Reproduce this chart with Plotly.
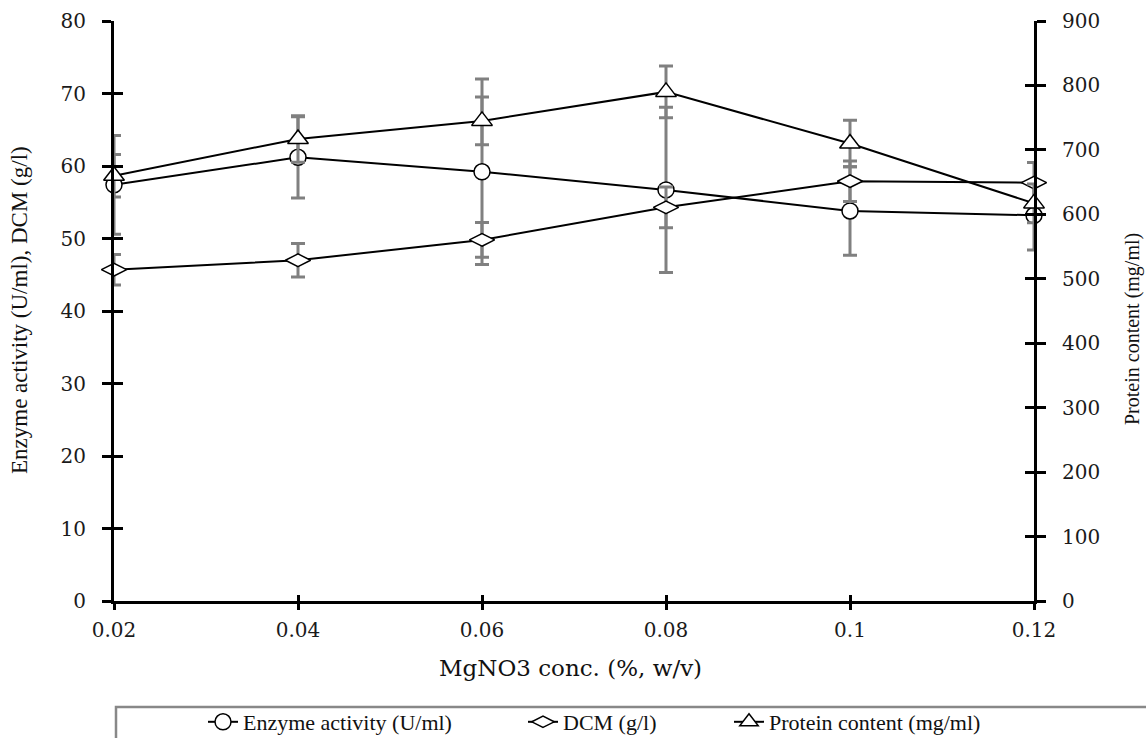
import plotly.graph_objects as go

# ---- data ----
conc = [0.02, 0.04, 0.06, 0.08, 0.10, 0.12]
conc_labels = ["0.02", "0.04", "0.06", "0.08", "0.1", "0.12"]
enzyme = [57.4, 61.2, 59.2, 56.7, 53.8, 53.2]
enzyme_err = [6.8, 5.6, 12.8, 11.4, 6.1, 4.8]
dcm = [45.7, 47.0, 49.8, 54.3, 57.9, 57.7]
dcm_err = [2.1, 2.3, 2.4, 2.8, 2.8, 2.8]
protein = [660, 717, 745, 790, 710, 617]
protein_err = [33, 36, 37, 40, 36, 30]
left_ticks = [0, 10, 20, 30, 40, 50, 60, 70, 80]
right_ticks = [0, 100, 200, 300, 400, 500, 600, 700, 800, 900]

W, H = 1146, 738
L, R, T, B = 114, 112, 21, 137
pw, ph = W - L - R, H - T - B


def px_x(p):
    return (p - L) / pw


def px_y(p):
    return (H - B - p) / ph


ERR_COL = "#808080"
tick_font = dict(family="DejaVu Serif", size=20, color="#1a1a1a")
leg_font = dict(family="Liberation Serif", size=22, color="#111111")

fig = go.Figure()


def err(vals):
    return dict(type="data", array=vals, visible=True, color=ERR_COL,
                thickness=3, width=7)


fig.add_trace(go.Scatter(
    x=conc, y=enzyme, name="Enzyme activity (U/ml)", mode="lines+markers",
    line=dict(color="black", width=2),
    marker=dict(symbol="circle", size=16, color="white",
                line=dict(color="black", width=1.5)),
    error_y=err(enzyme_err), cliponaxis=False, legend="legend"))

fig.add_trace(go.Scatter(
    x=conc, y=dcm, name="DCM (g/l)", mode="lines+markers",
    line=dict(color="black", width=2),
    marker=dict(symbol="diamond-wide", size=18, color="white",
                line=dict(color="black", width=1.5)),
    error_y=err(dcm_err), cliponaxis=False, legend="legend2"))

fig.add_trace(go.Scatter(
    x=conc, y=protein, name="Protein content (mg/ml)", mode="lines+markers",
    line=dict(color="black", width=2),
    marker=dict(symbol="triangle-up", size=18, color="white",
                line=dict(color="black", width=1.5)),
    error_y=err(protein_err), cliponaxis=False, yaxis="y2", legend="legend3"))

# invisible helper traces so the inside-tick overlay axes are drawn
fig.add_trace(go.Scatter(x=conc, y=enzyme, xaxis="x3", yaxis="y3",
                         mode="markers", marker=dict(opacity=0),
                         showlegend=False, hoverinfo="skip"))
fig.add_trace(go.Scatter(x=conc, y=protein, xaxis="x3", yaxis="y4",
                         mode="markers", marker=dict(opacity=0),
                         showlegend=False, hoverinfo="skip"))

common_axis = dict(showgrid=False, zeroline=False, tickcolor="black",
                   tickwidth=3)

fig.update_layout(
    width=W, height=H,
    margin=dict(l=L, r=R, t=T, b=B, pad=0, autoexpand=False),
    paper_bgcolor="white", plot_bgcolor="white",
    xaxis=dict(range=[0.02, 0.12], tickvals=conc, ticktext=conc_labels,
               ticks="outside", ticklen=6, showline=True, linecolor="black",
               linewidth=3, tickfont=tick_font, ticklabelstandoff=3,
               **common_axis),
    yaxis=dict(range=[0, 80], tickvals=left_ticks, ticks="outside",
               ticklen=9, showline=True, linecolor="black", linewidth=3,
               tickfont=tick_font, ticklabelstandoff=12, **common_axis),
    yaxis2=dict(range=[0, 900], tickvals=right_ticks, overlaying="y",
                side="right", ticks="outside", ticklen=9, showline=True,
                linecolor="black", linewidth=3, tickfont=tick_font,
                ticklabelstandoff=12, **common_axis),
    xaxis3=dict(range=[0.02, 0.12], tickvals=conc, overlaying="x",
                anchor="y3", ticks="inside", ticklen=6,
                showticklabels=False, showline=False, **common_axis),
    yaxis3=dict(range=[0, 80], tickvals=left_ticks, overlaying="y",
                anchor="x3", side="left", ticks="inside", ticklen=9,
                showticklabels=False, showline=False, **common_axis),
    yaxis4=dict(range=[0, 900], tickvals=right_ticks, overlaying="y",
                anchor="x3", side="right", ticks="inside", ticklen=9,
                showticklabels=False, showline=False, **common_axis),
    legend=dict(x=px_x(203), y=px_y(722), xanchor="left", yanchor="middle",
                orientation="h", font=leg_font, bgcolor="rgba(0,0,0,0)"),
    legend2=dict(x=px_x(523), y=px_y(722), xanchor="left", yanchor="middle",
                 orientation="h", font=leg_font, bgcolor="rgba(0,0,0,0)"),
    legend3=dict(x=px_x(729), y=px_y(722), xanchor="left", yanchor="middle",
                 orientation="h", font=leg_font, bgcolor="rgba(0,0,0,0)"),
    shapes=[dict(type="rect", xref="paper", yref="paper",
                 x0=px_x(116), x1=px_x(1170), y0=px_y(707), y1=px_y(770),
                 line=dict(color="#888888", width=2.5), fillcolor="rgba(0,0,0,0)",
                 layer="below")],
    annotations=[
        dict(text="MgNO3 conc. (%, w/v)", xref="paper", yref="paper",
             x=px_x(570), y=px_y(668), xanchor="center", yanchor="middle",
             showarrow=False,
             font=dict(family="DejaVu Serif", size=23, color="#111111")),
        dict(text="Enzyme activity (U/ml), DCM (g/l)", xref="paper",
             yref="paper", x=px_x(19), y=px_y(310), xanchor="center",
             yanchor="middle", textangle=-90, showarrow=False,
             font=dict(family="Liberation Serif", size=23, color="#111111")),
        dict(text="Protein content (mg/ml)", xref="paper", yref="paper",
             x=px_x(1132), y=px_y(329), xanchor="center", yanchor="middle",
             textangle=-90, showarrow=False,
             font=dict(family="Liberation Serif", size=20, color="#111111")),
    ],
)

fig.write_html("out.html")
